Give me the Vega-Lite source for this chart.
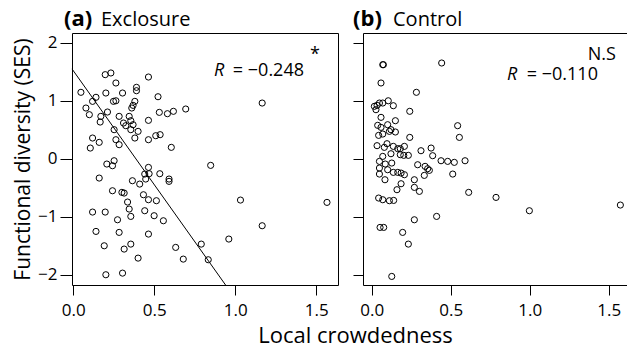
{
  "$schema": "https://vega.github.io/schema/vega-lite/v6.json",
  "padding": {"left": 12, "top": 7, "right": 0, "bottom": 0},
  "background": "white",
  "spacing": 25,
  "bounds": "flush",
  "config": {
    "font": "Open Sans",
    "view": {"stroke": "black", "strokeWidth": 1},
    "axis": {"grid": false, "domain": false, "tickColor": "black", "tickSize": 10, "labelColor": "black", "labelFontSize": 17, "labelFont": "Open Sans", "titleColor": "black", "titleFontWeight": "normal", "titleFontSize": 21, "titleFont": "Open Sans"},
    "text": {"font": "Open Sans", "color": "black"}
  },
  "datasets": {
    "exclosure": [
      {"x":0.047,"y":1.146},{"x":0.197,"y":1.451},{"x":0.232,"y":1.48},{"x":0.263,"y":1.307},{"x":0.464,"y":1.41},
      {"x":0.201,"y":1.134},{"x":0.304,"y":1.134},{"x":0.39,"y":1.232},{"x":0.39,"y":1.174},{"x":0.14,"y":1.06},
      {"x":0.119,"y":0.99},{"x":0.248,"y":0.99},{"x":0.263,"y":1.0},{"x":0.38,"y":0.99},{"x":0.523,"y":1.07},
      {"x":0.078,"y":0.875},{"x":0.099,"y":0.76},{"x":0.211,"y":0.806},{"x":0.17,"y":0.731},{"x":0.166,"y":0.633},
      {"x":0.283,"y":0.731},{"x":0.361,"y":0.875},{"x":0.369,"y":0.921},{"x":0.345,"y":0.731},{"x":0.31,"y":0.616},
      {"x":0.324,"y":0.57},{"x":0.355,"y":0.656},{"x":0.369,"y":0.587},{"x":0.355,"y":0.501},{"x":0.4,"y":0.472},
      {"x":0.464,"y":0.662},{"x":0.531,"y":0.8},{"x":0.581,"y":0.777},{"x":0.618,"y":0.818},{"x":0.694,"y":0.858},
      {"x":0.252,"y":0.501},{"x":0.119,"y":0.357},{"x":0.105,"y":0.184},{"x":0.16,"y":0.282},{"x":0.263,"y":0.328},
      {"x":0.283,"y":0.242},{"x":0.38,"y":0.357},{"x":0.464,"y":0.328},{"x":0.509,"y":0.397},{"x":0.536,"y":0.415},
      {"x":0.605,"y":0.196},{"x":1.166,"y":0.961},{"x":0.848,"y":-0.115},{"x":0.207,"y":-0.092},{"x":0.252,"y":-0.035},
      {"x":0.242,"y":-0.121},{"x":0.16,"y":-0.334},{"x":0.464,"y":-0.15},{"x":0.441,"y":-0.265},{"x":0.468,"y":-0.259},
      {"x":0.534,"y":-0.259},{"x":0.591,"y":-0.351},{"x":0.591,"y":-0.391},{"x":0.365,"y":-0.38},{"x":0.41,"y":-0.438},
      {"x":0.447,"y":-0.351},{"x":0.242,"y":-0.553},{"x":0.3,"y":-0.581},{"x":0.314,"y":-0.593},{"x":0.433,"y":-0.622},
      {"x":0.464,"y":-0.708},{"x":0.513,"y":-0.725},{"x":0.335,"y":-0.748},{"x":0.345,"y":-0.869},{"x":0.355,"y":-0.996},
      {"x":0.441,"y":-0.898},{"x":0.499,"y":-0.984},{"x":0.556,"y":-1.071},{"x":0.119,"y":-0.921},{"x":0.197,"y":-0.921},
      {"x":0.273,"y":-1.054},{"x":1.032,"y":-0.714},{"x":1.566,"y":-0.754},{"x":1.166,"y":-1.157},{"x":0.14,"y":-1.255},
      {"x":0.283,"y":-1.272},{"x":0.464,"y":-1.301},{"x":0.96,"y":-1.387},{"x":0.79,"y":-1.474},{"x":0.191,"y":-1.503},
      {"x":0.355,"y":-1.474},{"x":0.314,"y":-1.56},{"x":0.632,"y":-1.531},{"x":0.4,"y":-1.716},{"x":0.679,"y":-1.733},
      {"x":0.833,"y":-1.744},{"x":0.201,"y":-2.003},{"x":0.304,"y":-1.975}
    ],
    "control": [
      {"x":0.07,"y":1.623},{"x":0.074,"y":1.623},{"x":0.443,"y":1.652},{"x":0.059,"y":1.307},{"x":0.283,"y":1.146},
      {"x":0.017,"y":0.904},{"x":0.034,"y":0.921},{"x":0.049,"y":0.961},{"x":0.07,"y":0.961},{"x":0.105,"y":1.0},
      {"x":0.137,"y":0.915},{"x":0.027,"y":0.846},{"x":0.059,"y":0.714},{"x":0.241,"y":0.818},{"x":0.038,"y":0.576},
      {"x":0.059,"y":0.541},{"x":0.101,"y":0.587},{"x":0.122,"y":0.501},{"x":0.15,"y":0.656},{"x":0.112,"y":0.472},
      {"x":0.044,"y":0.403},{"x":0.07,"y":0.426},{"x":0.15,"y":0.461},{"x":0.241,"y":0.368},{"x":0.544,"y":0.57},
      {"x":0.555,"y":0.368},{"x":0.034,"y":0.225},{"x":0.08,"y":0.196},{"x":0.097,"y":0.259},{"x":0.137,"y":0.213},
      {"x":0.165,"y":0.173},{"x":0.181,"y":0.173},{"x":0.207,"y":0.213},{"x":0.122,"y":0.086},{"x":0.07,"y":0.04},
      {"x":0.181,"y":0.069},{"x":0.203,"y":0.058},{"x":0.232,"y":0.058},{"x":0.312,"y":0.138},{"x":0.376,"y":0.184},
      {"x":0.386,"y":0.052},{"x":0.049,"y":-0.046},{"x":0.086,"y":-0.092},{"x":0.127,"y":-0.075},{"x":0.291,"y":-0.104},
      {"x":0.338,"y":-0.132},{"x":0.354,"y":-0.173},{"x":0.365,"y":-0.201},{"x":0.439,"y":-0.035},{"x":0.481,"y":-0.046},
      {"x":0.523,"y":-0.063},{"x":0.591,"y":-0.035},{"x":0.049,"y":-0.161},{"x":0.049,"y":-0.265},{"x":0.101,"y":-0.19},
      {"x":0.137,"y":-0.236},{"x":0.165,"y":-0.236},{"x":0.186,"y":-0.248},{"x":0.207,"y":-0.276},{"x":0.333,"y":-0.288},
      {"x":0.513,"y":-0.265},{"x":0.084,"y":-0.363},{"x":0.186,"y":-0.432},{"x":0.27,"y":-0.363},{"x":0.27,"y":-0.495},
      {"x":0.302,"y":-0.564},{"x":0.16,"y":-0.535},{"x":0.614,"y":-0.581},{"x":0.787,"y":-0.668},{"x":0.044,"y":-0.679},
      {"x":0.07,"y":-0.708},{"x":0.112,"y":-0.725},{"x":0.139,"y":-0.72},{"x":0.998,"y":-0.898},{"x":1.574,"y":-0.8},
      {"x":0.27,"y":-1.054},{"x":0.411,"y":-0.996},{"x":0.053,"y":-1.186},{"x":0.076,"y":-1.186},{"x":0.196,"y":-1.272},
      {"x":0.232,"y":-1.474},{"x":0.127,"y":-2.032}
    ],
    "fitA": [{"x":-0.008,"y":1.55},{"x":0.94,"y":-2.18}],
    "notesA": [
      {"part":"tag","label":"(a)","x":-0.057,"y":2.29},
      {"part":"head","label":"Exclosure","x":0.171,"y":2.29},
      {"part":"R","label":"R","x":0.869,"y":1.428},
      {"part":"value","label":"= −0.248","x":1.424,"y":1.428},
      {"part":"sig","label":"*","x":1.492,"y":1.70}
    ],
    "notesB": [
      {"part":"tag","label":"(b)","x":-0.118,"y":2.29},
      {"part":"head","label":"Control","x":0.135,"y":2.29},
      {"part":"R","label":"R","x":0.856,"y":1.36},
      {"part":"value","label":"= −0.110","x":1.432,"y":1.36},
      {"part":"sig","label":"N.S","x":1.546,"y":1.70}
    ]
  },
  "hconcat": [
    {
      "width": 266,
      "height": 252,
      "layer": [
        {
          "data": {"name": "exclosure"},
          "mark": {"type": "point", "shape": "circle", "filled": false, "color": "black", "size": 38, "strokeWidth": 1, "opacity": 1},
          "encoding": {
            "x": {"field": "x", "type": "quantitative", "scale": {"domain": [-0.008, 1.634], "nice": false, "zero": false},
                  "axis": {"values": [0, 0.5, 1, 1.5], "format": ".1f", "labelPadding": 7, "title": "Local crowdedness", "titleX": 283, "titleY": 57, "titleAlign": "center", "titleBaseline": "alphabetic", "titleFontSize": 22}},
            "y": {"field": "y", "type": "quantitative", "scale": {"domain": [-2.18, 2.17], "nice": false, "zero": false},
                  "axis": {"values": [-2, -1, 0, 1, 2], "format": "d", "tickSize": 12, "labelPadding": 3, "title": "Functional diversity (SES)", "titlePadding": 4}}
          }
        },
        {
          "data": {"name": "fitA"},
          "mark": {"type": "line", "color": "black", "strokeWidth": 1},
          "encoding": {"x": {"field": "x", "type": "quantitative"}, "y": {"field": "y", "type": "quantitative"}}
        },
        {
          "data": {"name": "notesA"},
          "transform": [{"filter": "datum.part === 'tag'"}],
          "mark": {"type": "text", "align": "left", "baseline": "alphabetic", "fontSize": 22, "fontWeight": "bold"},
          "encoding": {"x": {"field": "x", "type": "quantitative"}, "y": {"field": "y", "type": "quantitative"}, "text": {"field": "label"}}
        },
        {
          "data": {"name": "notesA"},
          "transform": [{"filter": "datum.part === 'head'"}],
          "mark": {"type": "text", "align": "left", "baseline": "alphabetic", "fontSize": 20},
          "encoding": {"x": {"field": "x", "type": "quantitative"}, "y": {"field": "y", "type": "quantitative"}, "text": {"field": "label"}}
        },
        {
          "data": {"name": "notesA"},
          "transform": [{"filter": "datum.part === 'R'"}],
          "mark": {"type": "text", "align": "left", "baseline": "alphabetic", "fontSize": 18, "fontStyle": "italic"},
          "encoding": {"x": {"field": "x", "type": "quantitative"}, "y": {"field": "y", "type": "quantitative"}, "text": {"field": "label"}}
        },
        {
          "data": {"name": "notesA"},
          "transform": [{"filter": "datum.part === 'value'"}],
          "mark": {"type": "text", "align": "right", "baseline": "alphabetic", "fontSize": 18},
          "encoding": {"x": {"field": "x", "type": "quantitative"}, "y": {"field": "y", "type": "quantitative"}, "text": {"field": "label"}}
        },
        {
          "data": {"name": "notesA"},
          "transform": [{"filter": "datum.part === 'sig'"}],
          "mark": {"type": "text", "align": "center", "baseline": "alphabetic", "fontSize": 18},
          "encoding": {"x": {"field": "x", "type": "quantitative"}, "y": {"field": "y", "type": "quantitative"}, "text": {"field": "label"}}
        }
      ]
    },
    {
      "width": 264,
      "height": 252,
      "layer": [
        {
          "data": {"name": "control"},
          "mark": {"type": "point", "shape": "circle", "filled": false, "color": "black", "size": 38, "strokeWidth": 1, "opacity": 1},
          "encoding": {
            "x": {"field": "x", "type": "quantitative", "scale": {"domain": [-0.055, 1.616], "nice": false, "zero": false},
                  "axis": {"values": [0, 0.5, 1, 1.5], "format": ".1f", "labelPadding": 7, "title": null}},
            "y": {"field": "y", "type": "quantitative", "scale": {"domain": [-2.18, 2.17], "nice": false, "zero": false},
                  "axis": {"values": [-2, -1, 0, 1, 2], "labels": false, "title": null}}
          }
        },
        {
          "data": {"name": "notesB"},
          "transform": [{"filter": "datum.part === 'tag'"}],
          "mark": {"type": "text", "align": "left", "baseline": "alphabetic", "fontSize": 22, "fontWeight": "bold"},
          "encoding": {"x": {"field": "x", "type": "quantitative"}, "y": {"field": "y", "type": "quantitative"}, "text": {"field": "label"}}
        },
        {
          "data": {"name": "notesB"},
          "transform": [{"filter": "datum.part === 'head'"}],
          "mark": {"type": "text", "align": "left", "baseline": "alphabetic", "fontSize": 20},
          "encoding": {"x": {"field": "x", "type": "quantitative"}, "y": {"field": "y", "type": "quantitative"}, "text": {"field": "label"}}
        },
        {
          "data": {"name": "notesB"},
          "transform": [{"filter": "datum.part === 'R'"}],
          "mark": {"type": "text", "align": "left", "baseline": "alphabetic", "fontSize": 18, "fontStyle": "italic"},
          "encoding": {"x": {"field": "x", "type": "quantitative"}, "y": {"field": "y", "type": "quantitative"}, "text": {"field": "label"}}
        },
        {
          "data": {"name": "notesB"},
          "transform": [{"filter": "datum.part === 'value'"}],
          "mark": {"type": "text", "align": "right", "baseline": "alphabetic", "fontSize": 18},
          "encoding": {"x": {"field": "x", "type": "quantitative"}, "y": {"field": "y", "type": "quantitative"}, "text": {"field": "label"}}
        },
        {
          "data": {"name": "notesB"},
          "transform": [{"filter": "datum.part === 'sig'"}],
          "mark": {"type": "text", "align": "right", "baseline": "alphabetic", "fontSize": 18},
          "encoding": {"x": {"field": "x", "type": "quantitative"}, "y": {"field": "y", "type": "quantitative"}, "text": {"field": "label"}}
        }
      ]
    }
  ]
}
